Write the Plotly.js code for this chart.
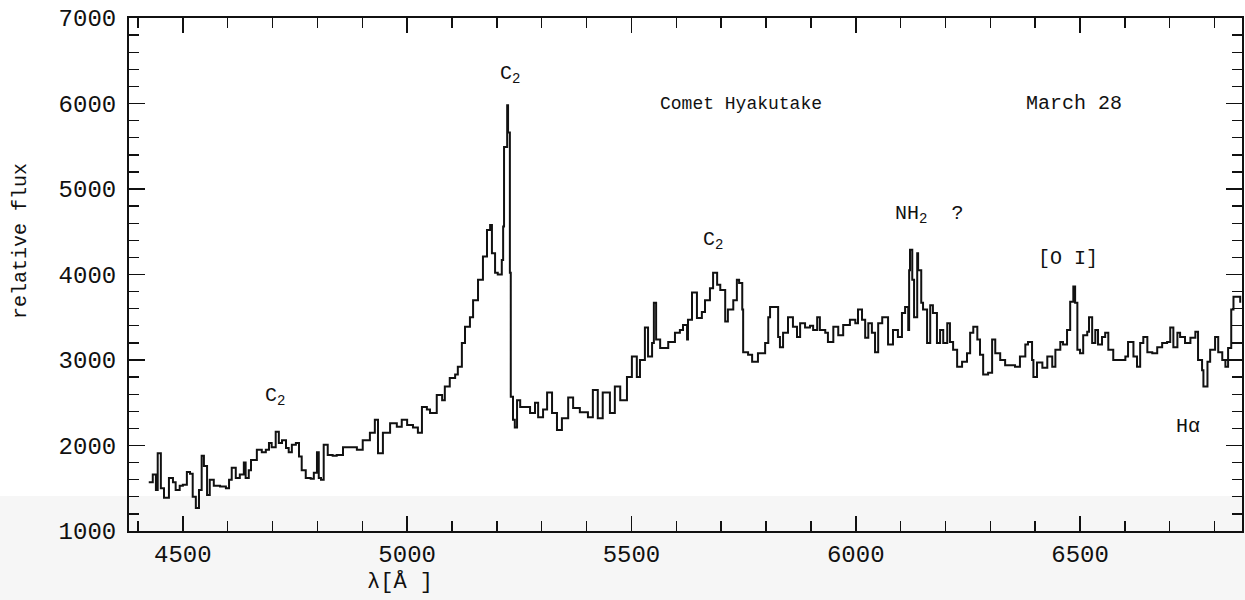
<!DOCTYPE html>
<html>
<head>
<meta charset="utf-8">
<script src="https://cdn.plot.ly/plotly-3.0.1.min.js"></script>
<style>
  html, body { margin: 0; padding: 0; background: #ffffff; }
  #chart { width: 1245px; height: 600px; }
</style>
</head>
<body>
<div id="chart"></div>
<script>
// Wavelength (Angstrom)
const wavelength = [
  4424,4433,4440,4444,4451,4458,4469,4478,4484,4493,4500,4509,4516,4522,4529,4536,4542,4547,4554,4560,
  4569,4583,4596,4603,4609,4618,4627,4636,4640,4647,4652,4665,4676,4685,4692,4698,4707,4714,4721,4730,
  4736,4743,4752,4759,4765,4774,4785,4792,4799,4803,4808,4814,4823,4834,4843,4857,4872,4888,4901,4917,
  4928,4935,4946,4962,4977,4988,5000,5013,5024,5033,5044,5051,5066,5078,5084,5095,5107,5113,5122,5129,
  5140,5147,5158,5169,5178,5185,5189,5196,5202,5211,5214,5216,5223,5225,5229,5231,5236,5240,5245,5252,
  5263,5274,5285,5292,5303,5312,5323,5334,5345,5359,5370,5385,5403,5414,5425,5436,5452,5463,5475,5490,
  5501,5512,5519,5530,5537,5546,5550,5555,5564,5582,5597,5608,5615,5624,5626,5635,5642,5646,5657,5664,
  5675,5682,5691,5698,5709,5715,5727,5735,5740,5747,5749,5760,5769,5782,5787,5798,5805,5809,5820,5827,
  5831,5838,5849,5860,5869,5876,5887,5898,5905,5914,5920,5932,5938,5950,5961,5972,5987,5999,6005,6014,
  6021,6028,6036,6043,6050,6059,6065,6072,6083,6094,6103,6110,6117,6119,6121,6126,6130,6137,6139,6146,
  6150,6159,6166,6172,6181,6188,6195,6204,6210,6217,6226,6237,6248,6255,6262,6271,6277,6284,6295,6304,
  6311,6322,6333,6344,6355,6366,6378,6384,6393,6396,6404,6416,6427,6438,6445,6456,6462,6471,6478,6485,
  6489,6494,6500,6507,6516,6520,6527,6534,6540,6549,6556,6563,6574,6590,6601,6607,6619,6627,6634,6641,
  6650,6661,6672,6683,6694,6701,6708,6717,6723,6734,6746,6757,6763,6772,6775,6784,6790,6801,6808,6817,
  6824,6830,6837,6842,6850,6857
];

// Relative flux
const flux = [
  1570,1660,1480,1910,1500,1390,1620,1570,1480,1530,1540,1690,1670,1400,1270,1480,1880,1760,1420,1600,
  1530,1520,1500,1600,1740,1620,1660,1800,1620,1710,1830,1950,1920,1950,2030,1980,2160,2030,2060,1970,
  1920,2010,2030,1870,1710,1620,1610,1680,1920,1620,1600,2010,1890,1880,1890,1980,1980,1950,2060,2150,
  2300,1910,2150,2260,2220,2300,2240,2210,2150,2450,2420,2380,2590,2530,2690,2790,2830,2920,3200,3390,
  3500,3700,3940,4210,4520,4580,4250,4020,4000,4170,4560,5490,5980,5660,4020,2570,2300,2210,2530,2450,
  2450,2380,2500,2330,2420,2620,2380,2180,2320,2560,2440,2390,2330,2650,2320,2620,2380,2690,2530,2800,
  3040,2800,3000,3380,3040,3200,3670,3240,3140,3210,3320,3350,3410,3240,3470,3790,3790,3490,3560,3700,
  3840,4020,3880,3820,3450,3590,3700,3940,3900,3590,3090,3060,2980,3080,3080,3200,3500,3620,3620,3270,
  3150,3320,3500,3390,3270,3430,3380,3400,3350,3500,3350,3320,3210,3390,3290,3410,3470,3430,3590,3470,
  3260,3430,3320,3090,3430,3500,3500,3180,3350,3270,3550,3620,3350,4050,4290,3940,3500,4250,4050,3670,
  3590,3200,3640,3550,3200,3350,3200,3430,3210,3120,2920,2980,3080,3320,3390,3240,3060,2830,2850,3240,
  3080,3000,2940,2940,2920,3040,3180,3210,3000,2800,2970,2910,3040,2920,3120,3210,3180,3350,3680,3860,
  3670,3120,3080,3290,3330,3500,3200,3350,3180,3270,3320,3120,3000,3000,3040,3210,3040,2920,3200,3270,
  3090,3080,3150,3200,3210,3380,3150,3320,3270,3200,3260,3330,3000,2880,2690,2980,3120,3270,3090,3000,
  2920,3140,3590,3740,3740,3670
];

// Tick labels
const xTicks = [4500, 5000, 5500, 6000, 6500];
const yTicks = [1000, 2000, 3000, 4000, 5000, 6000, 7000];

// Feature labels
const featureText = ["C<sub>2</sub>", "C<sub>2</sub>", "C<sub>2</sub>", "NH<sub>2</sub>  ?", "[O I]", "Hα"];
const featureX = [4705, 5229, 5682, 6164, 6473, 6741];
const featureY = [2570, 6340, 4400, 4700, 4190, 2220];

const titleText = "Comet Hyakutake";
const dateText = "March 28";
const xTitle = "λ[Å ]";
const yTitle = "relative flux";

const FONT = "Liberation Mono, Courier New, monospace";
const INK = "#111111";

const trace = {
  x: wavelength,
  y: flux,
  type: "scatter",
  mode: "lines",
  line: { color: INK, width: 2, shape: "hv" },
  hoverinfo: "x+y"
};

const annotations = featureText.map((t, i) => ({
  x: featureX[i], y: featureY[i], xref: "x", yref: "y",
  xanchor: "center", yanchor: "middle",
  text: t, showarrow: false,
  font: { family: FONT, size: 20, color: INK }
}));

annotations.push(
  { x: 5744, y: 6000, xref: "x", yref: "y", xanchor: "center", yanchor: "middle",
    text: titleText, showarrow: false, font: { family: FONT, size: 18, color: INK } },
  { x: 6487, y: 6000, xref: "x", yref: "y", xanchor: "center", yanchor: "middle",
    text: dateText, showarrow: false, font: { family: FONT, size: 20, color: INK } },
  { x: 0.2435, y: -0.099, xref: "paper", yref: "paper", xanchor: "center", yanchor: "middle",
    text: xTitle, showarrow: false, font: { family: FONT, size: 22, color: INK } },
  { x: -0.098, y: 0.565, xref: "paper", yref: "paper", xanchor: "center", yanchor: "middle",
    text: yTitle, showarrow: false, textangle: -90, font: { family: FONT, size: 20, color: INK } }
);

const layout = {
  width: 1245,
  height: 600,
  margin: { l: 129, r: 3, t: 18, b: 69, pad: 0 },
  paper_bgcolor: "#ffffff",
  plot_bgcolor: "#ffffff",
  showlegend: false,
  xaxis: {
    range: [4380, 6861],
    tickvals: xTicks,
    ticktext: xTicks.map(String),
    ticks: "inside",
    ticklen: 15,
    tickwidth: 1.6,
    tickcolor: INK,
    minor: { dtick: 100, tick0: 4500, ticks: "inside", ticklen: 10, tickwidth: 1.4, tickcolor: INK, showgrid: false },
    showline: true,
    linecolor: INK,
    linewidth: 2,
    mirror: "ticks",
    showgrid: false,
    zeroline: false,
    ticklabelstandoff: 0,
    tickfont: { family: FONT, size: 24, color: INK }
  },
  yaxis: {
    range: [1000, 7000],
    tickvals: yTicks,
    ticktext: yTicks.map(String),
    ticks: "inside",
    ticklen: 16,
    tickwidth: 1.6,
    tickcolor: INK,
    minor: { dtick: 200, tick0: 1000, ticks: "inside", ticklen: 10, tickwidth: 1.4, tickcolor: INK, showgrid: false },
    showline: true,
    linecolor: INK,
    linewidth: 2,
    mirror: "ticks",
    showgrid: false,
    zeroline: false,
    ticklabelstandoff: 6,
    tickfont: { family: FONT, size: 24, color: INK }
  },
  shapes: [
    { type: "rect", xref: "paper", yref: "paper", x0: -0.2, x1: 1.01, y0: -0.14, y1: 0.068,
      fillcolor: "#f6f6f6", line: { width: 0 }, layer: "below" }
  ],
  annotations: annotations
};

Plotly.newPlot("chart", [trace], layout, { displayModeBar: false, staticPlot: true });
</script>
</body>
</html>
